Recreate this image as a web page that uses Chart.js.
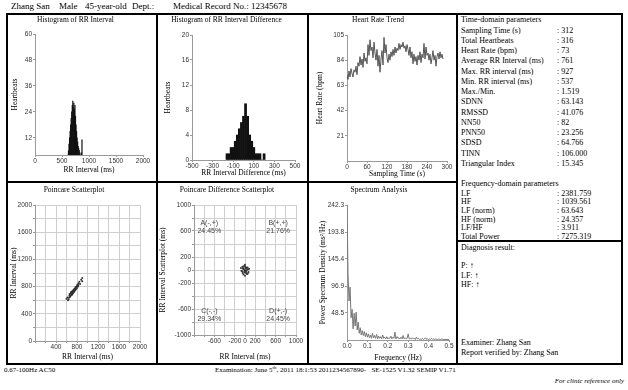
<!DOCTYPE html>
<html><head><meta charset="utf-8">
<script src="https://cdn.jsdelivr.net/npm/chart.js@4.4.0/dist/chart.umd.min.js"></script>
<style>
html,body{margin:0;padding:0;background:#fff;}
#page{position:relative;width:628px;height:390px;overflow:hidden;font-family:"Liberation Serif",serif;color:#000;background:#fff;filter:grayscale(100%);}
canvas{position:absolute;}
.t{position:absolute;white-space:nowrap;line-height:10px;height:10px;}
.ln{position:absolute;background:#000;z-index:5;}
sup{font-size:5px;vertical-align:top;line-height:6px;}
</style></head><body><div id="page"></div>
<script>
// ---------------- DATA ----------------
const rrBins   = [600,610,620,630,640,650,660,670,680,690,700,710,720,730,740,750,760,770,780,790,800,810,820,830,840,850,860,870,880,890,900,910,920];
const rrCounts = [2,4,6,9,12,15,18,21,24,27,29,26,28,25,27,22,18,15,12,10,8,7,6,5,4,3,5,11,3,2,2,1,1];

const diffBins   = [-160,-140,-120,-100,-80,-60,-40,-20,0,20,40,60,80,100,120,140,160,180,200];
const diffCounts = [1,1,2,2,3,4,5,6,7,9,7,4,3,2,1,1,1,0,1];

const hrTime = [0,3,6,9,12,15,18,21,24,27,30,33,36,39,42,45,48,51,54,57,60,63,66,69,72,75,78,81,84,87,90,93,96,99,102,105,108,111,114,117,120,123,126,129,132,135,138,141,144,147,150,153,156,159,162,165,168,171,174,177,180,183,186,189,192,195,198,201,204,207,210,213,216,219,222,225,228,231,234,237,240,243,246,249,252,255,258,261,264,267,270,273,276,279,282,285,288];
const hrValue = [72,68,75,70,77,73,70,76,74,79,72,
  82,79,87,80,85,78,90,83,86,81,
  97,88,101,92,95,86,99,90,84,93,
  79,88,74,85,92,80,103,90,97,86,
  82,89,84,91,87,93,88,95,90,94,
  92,98,93,97,95,99,94,96,91,97,
  93,88,95,86,91,81,89,83,87,80,
  88,84,91,82,89,86,98,85,95,88,
  90,84,89,81,86,92,84,88,79,87,
  90,85,91,86,89,85];

const poincareRRn  = [620,640,655,670,680,690,700,710,715,720,730,735,740,745,750,760,765,770,780,790,800,810,820,830,845,860,880,900,660,675,685,695,705,725,700,690,710,740,755,775,600,630,650,720,735,760,785,805,825,900];
const poincareRRn1 = [640,615,670,650,700,675,720,690,705,740,715,750,730,760,735,770,745,790,760,800,780,830,800,850,870,840,900,880,690,660,710,700,680,725,700,720,730,720,755,775,620,600,640,700,735,745,790,815,820,925];

const diffRRn  = [-40,30,-60,50,10,-20,70,-30,20,-10,40,-50,0,60,-70,15,-25,35,-45,5,25,-15,55,-35,0,80,-80,10,-5,45];
const diffRRn1 = [30,-50,-20,40,-10,60,-30,-70,20,0,-60,50,80,10,-10,-35,25,35,-45,55,-15,-25,-55,15,-90,20,30,40,-40,5];

const specFreq = [0.000,0.005,0.010,0.015,0.020,0.025,0.030,0.035,0.040,0.045,0.050,0.055,0.060,0.065,0.070,0.075,0.080,0.085,0.090,0.095,0.100,0.105,0.110,0.115,0.120,0.125,0.130,0.135,0.140,0.145,0.150,0.155,0.160,0.165,0.170,0.175,0.180,0.185,0.190,0.195,0.200,0.205,0.210,0.215,0.220,0.225,0.230,0.235,0.240,0.245,0.250,0.255,0.260,0.265,0.270,0.275,0.280,0.285,0.290,0.295,0.300,0.305,0.310,0.315,0.320,0.325,0.330,0.335,0.340,0.345,0.350,0.355,0.360,0.365,0.370,0.375,0.380,0.385,0.390,0.395,0.400,0.405,0.410,0.415,0.420,0.425,0.430,0.435,0.440,0.445,0.450,0.455,0.460,0.465,0.470,0.475,0.480,0.485,0.490,0.495,0.500];
const specPower = [242.3,120,70,95,40,55,20,48,25,50,18,32,12,22,9,17,8,15,6,13,5,11,4,9,3,12,4,8,3,10,2,7,3,6,2,9,3,5,2,6,2,4,3,7,2,5,3,14,2,6,3,4,2,5,2,8,2,4,2,3,11,2,3,2,4,2,3,1,5,2,3,1,2,1,3,1,2,4,1,2,1,2,1,3,1,2,1,2,1,1,2,1,1,2,1,1,1,1,1,1,1];

const quadNames = ['A(-,+)','B(+,+)','C(-,-)','D(+,-)'];
const quadPct   = ['24.45%','21.76%','29.34%','24.45%'];

// tick label arrays
const rrHistXTicks = [0,500,1000,1500,2000];
const rrHistYTicks = [12,24,36,48,60];
const diffHistXTicks = [-500,-300,-100,100,300,500];
const diffHistYTicks = [0,4,8,12,16,20];
const hrXTicks = [0,60,120,180,240,300];
const hrYTicks = [21,42,63,84,105];
const poinGrid = [0,200,400,600,800,1000,1200,1400,1600,1800,2000];
const poinYLabels = [0,400,800,1200,1600,2000];
const poinXLabels = [400,800,1200,1600,2000];
const diffGrid = [-1000,-800,-600,-400,-200,0,200,400,600,800,1000];
const diffYLabels = [1000,600,200,0,-200,-600,-1000];
const diffXLabels = [-600,-200,0,200,600,1000];
const specXTicks = [0,0.1,0.2,0.3,0.4,0.5];
const specYTicks = [48.5,96.9,145.4,193.8,242.3];

const timeLabels = ['Sampling Time (s)','Total Heartbeats','Heart Rate (bpm)','Average RR Interval (ms)','Max. RR interval (ms)','Min. RR interval (ms)','Max./Min.','SDNN','RMSSD','NN50','PNN50','SDSD','TINN','Triangular Index'];
const timeValues = ['312','316','73','761','927','537','1.519','63.143','41.076','82','23.256','64.766','106.000','15.345'];
const freqLabels = ['LF','HF','LF (norm)','HF (norm)','LF/HF','Total Power'];
const freqValues = ['2381.759','1039.561','63.643','24.357','3.911','7275.319'];
const diagLines = ['P: ↑','LF: ↑','HF: ↑'];

// ---------------- LAYOUT ----------------
const SERIF = '"Liberation Serif", serif';
const SANS = '"Liberation Sans", sans-serif';
const page = document.getElementById('page');

function text(str, x, yc, size, opts) {
  const d = document.createElement('div');
  d.className = 't';
  d.style.left = x + 'px';
  d.style.top = (yc - 5) + 'px';
  d.style.fontSize = size + 'px';
  if (opts && opts.italic) d.style.fontStyle = 'italic';
  if (opts && opts.right) { d.style.left = 'auto'; d.style.right = (628 - x) + 'px'; }
  d.innerHTML = str;
  page.appendChild(d);
}
function line(x, y, w, h) {
  const d = document.createElement('div');
  d.className = 'ln';
  d.style.left = x + 'px'; d.style.top = y + 'px';
  d.style.width = w + 'px'; d.style.height = h + 'px';
  page.appendChild(d);
}

// header
text('Zhang San', 11, 6, 9);
text('Male', 59, 6, 9);
text('45-year-old', 85, 6, 9);
text('Dept.:', 132, 6, 9);
text('Medical Record No.: 12345678', 173, 6, 9);

// frame
line(6, 13, 617, 2);
line(6, 363, 617, 2);
line(6, 13, 2, 352);
line(621, 13, 2, 352);
line(156, 13, 2, 352);
line(307, 13, 2, 352);
line(456, 13, 2, 352);
line(6, 181, 451, 2);
line(456, 240, 166, 2);

// right panel text
text('Time-domain parameters', 461, 20, 8);
timeLabels.forEach((l, i) => {
  text(l, 461, 30.5 + i * 10.25, 8);
  text(': ' + timeValues[i], 557, 30.5 + i * 10.25, 8);
});
text('Frequency-domain parameters', 461, 184, 8);
freqLabels.forEach((l, i) => {
  text(l, 461, 193.5 + i * 8.7, 8);
  text(': ' + freqValues[i], 557, 193.5 + i * 8.7, 8);
});
text('Diagnosis result:', 461, 248, 8);
diagLines.forEach((l, i) => text(l, 461, 266 + i * 9.5, 8));
text('Examiner: Zhang San', 461, 343, 8);
text('Report verified by: Zhang San', 461, 353, 8);

// footer
text('0.67-100Hz AC50', 4, 370, 7);
text('Examination: June 5<sup>th</sup>, 2011 18:1:53 2011234567890-&nbsp;&nbsp; SE-1525 V1.32 SEMIP V1.71', 215, 370, 7);
text('For clinic reference only', 624, 381, 7, {italic: true, right: true});

// ---------------- CHARTS ----------------
function fmt(v, dec) { return dec ? v.toFixed(dec) : String(v); }

function axis(o, horiz, sizeFix, titlePad) {
  const show = o.labels || o.ticks;
  return {
    type: 'linear', min: o.min, max: o.max, offset: false,
    border: {display: true, color: '#9a9a9a', width: 1},
    grid: {display: true, offset: false, drawOnChartArea: !!o.grid, color: o.grid ? '#cfcfcf' : '#9a9a9a',
           tickLength: 2, tickColor: '#9a9a9a', lineWidth: 1},
    ticks: {autoSkip: false, maxRotation: 0, minRotation: 0, padding: horiz ? 0 : 1, color: '#333',
            font: {family: SANS, size: 6.5},
            callback: (v) => show.some(s => Math.abs(s - v) < 1e-9) ? fmt(v, o.dec) : ''},
    afterBuildTicks: (s) => { s.ticks = o.ticks.map(v => ({value: v})); },
    afterFit: (s) => { if (horiz) s.height = sizeFix; else s.width = sizeFix; },
    title: {display: true, text: o.title, color: '#000', font: {family: SERIF, size: 7.5},
            padding: horiz ? {top: 0, bottom: titlePad} : {top: titlePad, bottom: 0}}
  };
}

function build(p) {
  const c = document.createElement('canvas');
  c.width = p.box[2]; c.height = p.box[3];
  c.style.left = p.box[0] + 'px'; c.style.top = p.box[1] + 'px';
  c.style.width = p.box[2] + 'px'; c.style.height = p.box[3] + 'px';
  page.appendChild(c);
  const titleBottom = p.chartTop - p.titleTop - 9;
  new Chart(c, {
    type: p.type,
    data: {datasets: p.datasets},
    options: {
      responsive: false, animation: false, devicePixelRatio: 1,
      layout: {padding: {left: 0, right: p.R, top: 0, bottom: 0}},
      plugins: {
        legend: {display: false}, tooltip: {enabled: false},
        title: {display: true, text: p.title, color: '#000', font: {family: SERIF, size: 7.5, weight: 'normal'},
                padding: {top: p.titleTop, bottom: titleBottom}}
      },
      scales: {
        x: axis(p.x, true, p.xH, p.x.titlePad),
        y: axis(p.y, false, p.yW, p.y.titlePad)
      }
    },
    plugins: p.plugins || []
  });
}

// Panel 1: Histogram of RR Interval
build({
  box: [8, 15, 148, 166], type: 'bar', title: 'Histogram of RR Interval', titleTop: 0.5, chartTop: 19,
  R: 13, xH: 26, yW: 27,
  x: {min: 0, max: 2000, ticks: rrHistXTicks, title: 'RR Interval (ms)', titlePad: 6.5},
  y: {min: 4, max: 60, ticks: rrHistYTicks, title: 'Heartbeats', titlePad: 2.5},
  datasets: [{data: rrBins.map((b, i) => ({x: b, y: rrCounts[i]})), backgroundColor: '#111', borderWidth: 0,
              barPercentage: 1, categoryPercentage: 1}]
});

// Panel 2: Histogram of RR Interval Difference
build({
  box: [158, 15, 149, 166], type: 'bar', title: 'Histogram of RR Interval Difference', titleTop: 0.5, chartTop: 20,
  R: 12, xH: 21, yW: 34,
  x: {min: -500, max: 500, ticks: diffHistXTicks, title: 'RR Interval Difference (ms)', titlePad: 3.5},
  y: {min: 0, max: 20, ticks: diffHistYTicks, title: 'Heartbeats', titlePad: 5.5},
  datasets: [{data: diffBins.map((b, i) => ({x: b, y: diffCounts[i]})), backgroundColor: '#111', borderWidth: 0,
              barPercentage: 1, categoryPercentage: 1}]
});

// Panel 3: Heart Rate Trend
build({
  box: [309, 15, 147, 166], type: 'line', title: 'Heart Rate Trend', titleTop: 0.5, chartTop: 20,
  R: 9, xH: 20, yW: 38,
  x: {min: 0, max: 300, ticks: hrXTicks, title: 'Sampling Time (s)', titlePad: 2.5},
  y: {min: 0, max: 105, ticks: hrYTicks, title: 'Heart Rate (bpm)', titlePad: 6.5},
  datasets: [{data: hrTime.map((t, i) => ({x: t, y: hrValue[i]})), borderColor: '#555', borderWidth: 1,
              pointRadius: 0, tension: 0, fill: false}]
});

// Panel 4: Poincare Scatterplot
build({
  box: [8, 183, 148, 180], type: 'scatter', title: 'Poincare Scatterplot', titleTop: 2.5, chartTop: 22,
  R: 16, xH: 22, yW: 27,
  x: {min: 0, max: 2000, ticks: poinGrid, labels: poinXLabels, grid: true, title: 'RR Interval (ms)', titlePad: 1.5},
  y: {min: 0, max: 2000, ticks: poinGrid, labels: poinYLabels, grid: true, title: 'RR Interval (ms)', titlePad: 1.5},
  datasets: [{data: poincareRRn.map((v, i) => ({x: v, y: poincareRRn1[i]})), backgroundColor: '#333',
              pointRadius: 1, borderWidth: 0}]
});

// Panel 5: Poincare Difference Scatterplot
const quadPlugin = {
  id: 'quad',
  afterDatasetsDraw(chart) {
    const {ctx, scales: {x, y}} = chart;
    const anchors = [[-700, 660], [650, 660], [-700, -700], [650, -700]];
    ctx.save();
    ctx.fillStyle = '#444';
    ctx.font = '7px ' + SANS;
    ctx.textAlign = 'center'; ctx.textBaseline = 'middle';
    anchors.forEach((a, i) => {
      const px = x.getPixelForValue(a[0]), py = y.getPixelForValue(a[1]);
      ctx.fillText(quadNames[i], px, py - 4);
      ctx.fillText(quadPct[i], px, py + 4);
    });
    ctx.restore();
  }
};
build({
  box: [158, 183, 149, 180], type: 'scatter', title: 'Poincare Difference Scatterplot', titleTop: 2.5, chartTop: 22,
  R: 11, xH: 28, yW: 36,
  x: {min: -1000, max: 1000, ticks: diffGrid, labels: diffXLabels, grid: true, title: 'RR Interval (ms)', titlePad: 1.5},
  y: {min: -1000, max: 1000, ticks: diffGrid, labels: diffYLabels, grid: true, title: 'RR Interval Scatterplot (ms)', titlePad: 0.5},
  datasets: [{data: diffRRn.map((v, i) => ({x: v, y: diffRRn1[i]})), backgroundColor: '#333',
              pointRadius: 1, borderWidth: 0}],
  plugins: [quadPlugin]
});

// Panel 6: Spectrum Analysis
build({
  box: [309, 183, 147, 180], type: 'line', title: 'Spectrum Analysis', titleTop: 2.5, chartTop: 22,
  R: 7, xH: 23, yW: 38,
  x: {min: 0, max: 0.5, ticks: specXTicks, dec: 1, title: 'Frequency (Hz)', titlePad: 0.5},
  y: {min: 0, max: 242.3, ticks: specYTicks, dec: 1, title: 'Power Spectrum Density (ms²/Hz)', titlePad: 9.5},
  datasets: [{data: specFreq.map((f, i) => ({x: f, y: specPower[i]})), borderColor: '#777', borderWidth: 1,
              pointRadius: 0, tension: 0, fill: false}]
});
</script>
</body></html>
